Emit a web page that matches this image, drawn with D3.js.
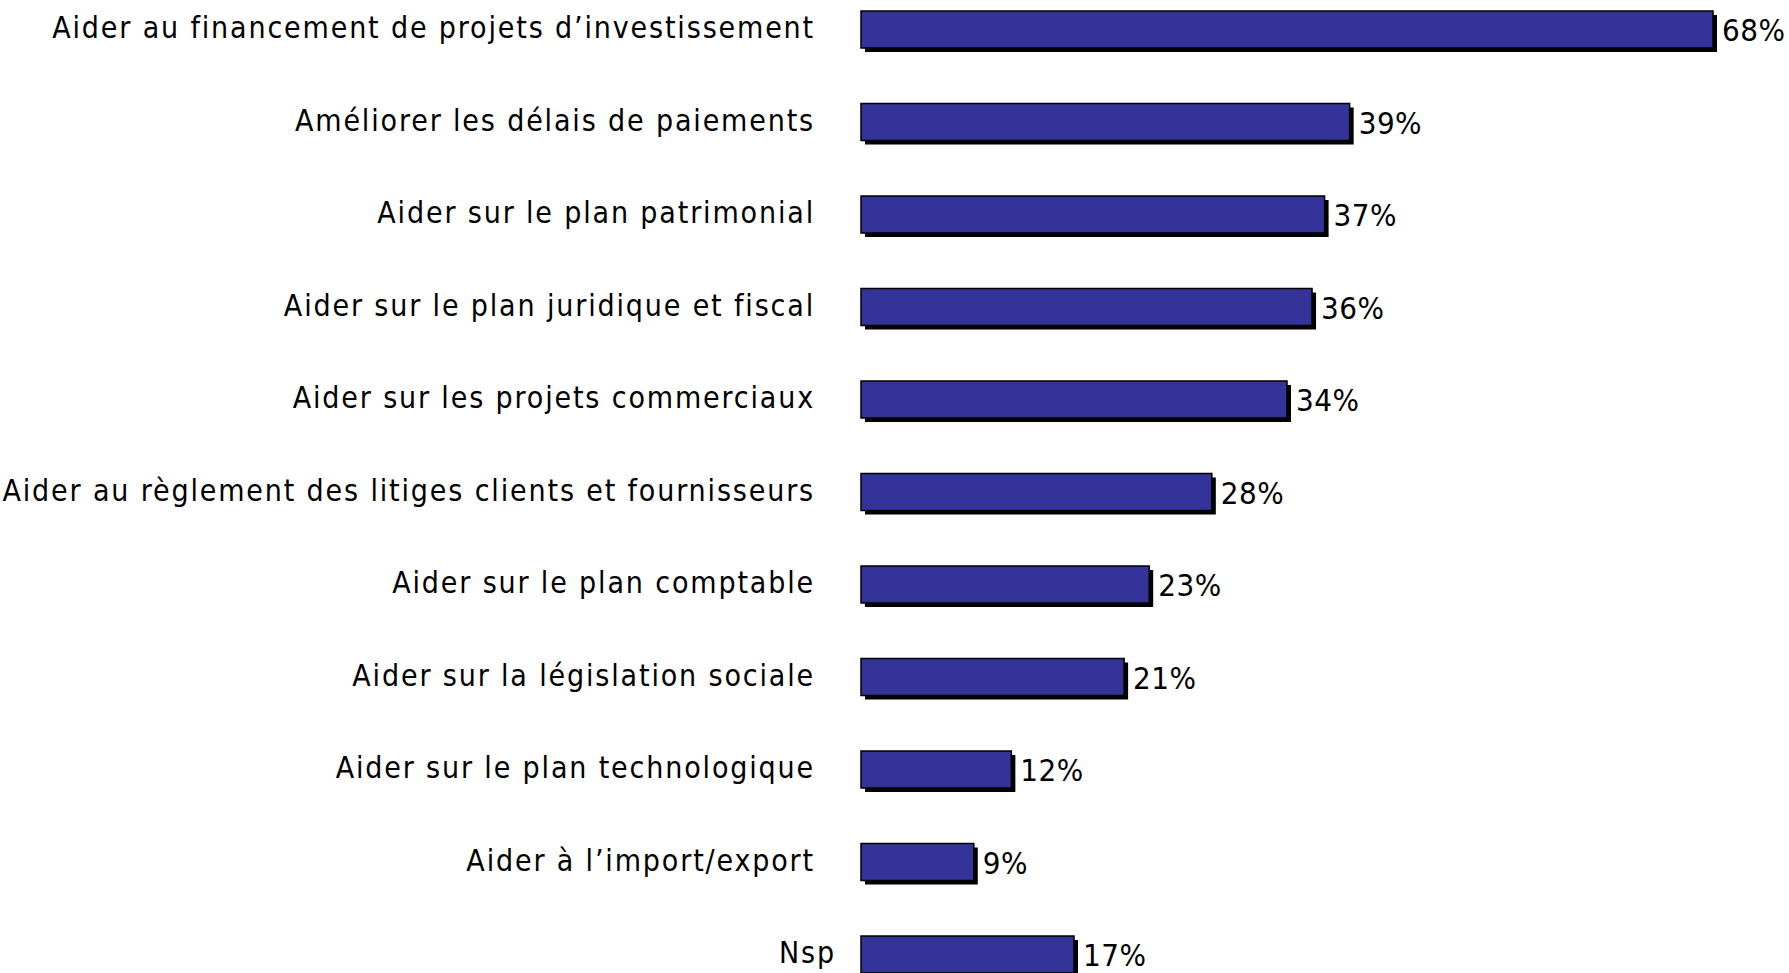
<!DOCTYPE html>
<html>
<head>
<meta charset="utf-8">
<script src="https://cdn.jsdelivr.net/npm/d3@7"></script>
<style>
  body { margin: 0; background: #fff; }
  svg { display: block; }
</style>
</head>
<body>
<div id="chart"></div>
<script>
// data
var categories = [
  "Aider au financement de projets d\u2019investissement",
  "Am\u00e9liorer les d\u00e9lais de paiements",
  "Aider sur le plan patrimonial",
  "Aider sur le plan juridique et fiscal",
  "Aider sur les projets commerciaux",
  "Aider au r\u00e8glement des litiges clients et fournisseurs",
  "Aider sur le plan comptable",
  "Aider sur la l\u00e9gislation sociale",
  "Aider sur le plan technologique",
  "Aider \u00e0 l\u2019import/export",
  "Nsp"
];
var values = [68, 39, 37, 36, 34, 28, 23, 21, 12, 9, 17];
var valueLabels = ["68%", "39%", "37%", "36%", "34%", "28%", "23%", "21%", "12%", "9%", "17%"];

var svgWidth = 1789;
var svgHeight = 973;

var svg = d3.select("#chart").append("svg")
    .attr("width", svgWidth).attr("height", svgHeight);

var x = d3.scaleLinear().domain([0, 68]).range([861, 1713]);

// step 92.5, bar height 37, first bar top at 11
var y = d3.scaleBand().domain(categories)
    .range([11, 11 + 10 * 92.5 + 37])
    .paddingInner((92.5 - 37) / 92.5).paddingOuter(0);

var rows = categories.map(function(c, i) {
    return { cat: c, value: values[i], label: valueLabels[i] };
});

// shadows
svg.append("g").selectAll("rect").data(rows).enter().append("rect")
    .attr("x", x(0) + 4)
    .attr("y", d => y(d.cat) + 4)
    .attr("width", d => x(d.value) - x(0))
    .attr("height", y.bandwidth())
    .attr("fill", "#000");

// bars
svg.append("g").selectAll("rect").data(rows).enter().append("rect")
    .attr("x", x(0))
    .attr("y", d => y(d.cat))
    .attr("width", d => x(d.value) - x(0))
    .attr("height", y.bandwidth())
    .attr("fill", "#333399")
    .attr("stroke", "#000")
    .attr("stroke-width", 1.5);

var font = "'DejaVu Sans Condensed', 'DejaVu Sans', sans-serif";

// category labels
svg.append("g").selectAll("text").data(rows).enter().append("text")
    .attr("x", d => d.cat == "Nsp" ? 836 : 815)
    .attr("y", d => y(d.cat) + y.bandwidth() / 2 - 2)
    .attr("dy", "0.35em")
    .attr("text-anchor", "end")
    .attr("font-family", font)
    .attr("font-size", 30)
    .attr("letter-spacing", "1.85px")
    .attr("fill", "#000")
    .text(d => d.cat);

// value labels
svg.append("g").selectAll("text").data(rows).enter().append("text")
    .attr("x", d => x(d.value) + 9)
    .attr("y", d => y(d.cat) + y.bandwidth() / 2 + 1)
    .attr("dy", "0.35em")
    .attr("font-family", font)
    .attr("font-size", 31)
    .attr("letter-spacing", "0.5px")
    .attr("fill", "#000")
    .text(d => d.label);
</script>
</body>
</html>
